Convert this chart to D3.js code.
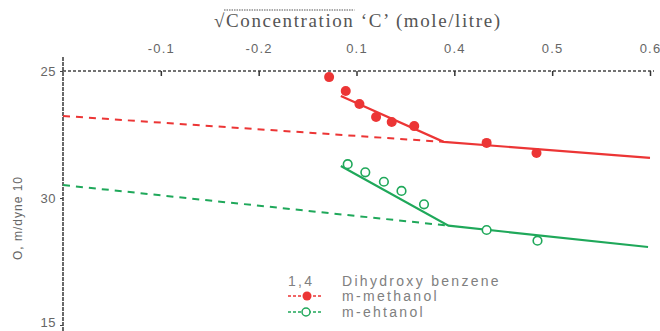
<!DOCTYPE html>
<html><head><meta charset="utf-8">
<script src="https://cdn.jsdelivr.net/npm/d3@7"></script>
<style>
html,body{margin:0;padding:0;background:#fff;}
svg{display:block;}
</style></head>
<body>
<svg id="chart" width="660" height="331"></svg>
<script>
// ---- data ----
const xTickValues = [0.1, 0.2, 0.3, 0.4, 0.5, 0.6];
const xTickLabels = ["-0.1", "-0.2", "0.1", "0.4", "0.5", "0.6"];
const yTickValues = [25, 30, 35];
const yTickLabels = ["25", "30", "15"];

const methanolX = [0.272, 0.289, 0.303, 0.320, 0.336, 0.359, 0.433, 0.484];
const methanolY = [25.24, 25.79, 26.30, 26.81, 27.01, 27.17, 27.83, 28.23];
const methanolFitX = [0.284, 0.389, 0.600];
const methanolFitY = [25.98, 27.79, 28.42];
const methanolDashX = [0.0, 0.389];
const methanolDashY = [26.77, 27.79];

const ethanolX = [0.291, 0.309, 0.328, 0.346, 0.369, 0.433, 0.485];
const ethanolY = [28.67, 28.99, 29.36, 29.72, 30.25, 31.26, 31.68];
const ethanolFitX = [0.284, 0.394, 0.598];
const ethanolFitY = [28.74, 31.09, 31.93];
const ethanolDashX = [0.0, 0.394];
const ethanolDashY = [29.49, 31.09];

const legendTitle = ["1,4", "Dihydroxy benzene"];
const seriesNames = ["m-methanol", "m-ehtanol"];

// ---- drawing ----
const RED = "#ec3535", GREEN = "#1fa85a", GREY = "#555";
const svg = d3.select("#chart");
const x = d3.scaleLinear().domain([0, 0.6]).range([63, 650]);
const y = d3.scaleLinear().domain([25, 35]).range([71, 325]);
const zip = (a, b) => a.map((v, i) => [v, b[i]]);
const line = d3.line().x(d => x(d[0])).y(d => y(d[1]));

// top axis
const xAxis = d3.axisTop(x).tickValues(xTickValues)
  .tickFormat((d, i) => xTickLabels[i]).tickSizeInner(-5).tickSizeOuter(0).tickPadding(18);
const gx = svg.append("g").attr("transform", "translate(0,71)").call(xAxis);
gx.select(".domain").attr("stroke", "#444").attr("stroke-width", 1.3).attr("stroke-dasharray", "3,2")
  .attr("d", `M${x(0)},0H${x(0.6) + 4}`);
gx.selectAll(".tick line").attr("stroke", "#333").attr("stroke-width", 1.5);
gx.selectAll(".tick text").attr("fill", "#666").attr("font-family", "Liberation Sans, Arial, sans-serif")
  .attr("font-size", 13).attr("letter-spacing", 1.2);

// left axis
const yAxis = d3.axisLeft(y).tickValues(yTickValues)
  .tickFormat((d, i) => yTickLabels[i]).tickSizeInner(3).tickSizeOuter(0).tickPadding(4);
const gy = svg.append("g").attr("transform", "translate(63,0)").call(yAxis);
gy.select(".domain").attr("stroke", "#444").attr("stroke-width", 1.6).attr("stroke-dasharray", "4,1")
  .attr("d", "M0,57V331");
gy.selectAll(".tick line").attr("stroke", "#444");
gy.selectAll(".tick text").attr("fill", "#666").attr("font-family", "Liberation Sans, Arial, sans-serif")
  .attr("font-size", 13).attr("letter-spacing", 0.5)
  .attr("y", (d, i) => i === yTickValues.length - 1 ? -3 : 0);

// title
const title = svg.append("text").attr("x", 214).attr("y", 27)
  .attr("font-family", "Liberation Serif, Times New Roman, serif").attr("font-size", 19).attr("fill", GREY)
  .attr("letter-spacing", 1.6);
title.append("tspan").text("\u221A");
title.append("tspan").text("Concentration");
title.append("tspan").text(" \u2018C\u2019 (mole/litre)");
{
  const n = title.node();
  const start = n.getStartPositionOfChar(1).x;
  const end = n.getEndPositionOfChar(13).x;
  svg.append("line").attr("x1", start - 2).attr("x2", end).attr("y1", 10).attr("y2", 10)
    .attr("stroke", GREY).attr("stroke-width", 1).attr("stroke-dasharray", "1.5,1");
}

// y label
svg.append("text").attr("transform", "translate(22,218) rotate(-90)").attr("text-anchor", "middle")
  .attr("font-family", "Liberation Sans, Arial, sans-serif").attr("font-size", 12).attr("fill", "#666")
  .attr("letter-spacing", 1).text("O, m/dyne 10");

// dashed extrapolations
svg.append("path").attr("d", line(zip(methanolDashX, methanolDashY))).attr("fill", "none")
  .attr("stroke", RED).attr("stroke-width", 2).attr("stroke-dasharray", "7,6");
svg.append("path").attr("d", line(zip(ethanolDashX, ethanolDashY))).attr("fill", "none")
  .attr("stroke", GREEN).attr("stroke-width", 2).attr("stroke-dasharray", "7,6");

// solid fits
svg.append("path").attr("d", line(zip(methanolFitX, methanolFitY))).attr("fill", "none")
  .attr("stroke", RED).attr("stroke-width", 2.2);
svg.append("path").attr("d", line(zip(ethanolFitX, ethanolFitY))).attr("fill", "none")
  .attr("stroke", GREEN).attr("stroke-width", 2.2);

// points
svg.append("g").selectAll("circle").data(zip(methanolX, methanolY)).join("circle")
  .attr("cx", d => x(d[0])).attr("cy", d => y(d[1])).attr("r", 5).attr("fill", RED);
svg.append("g").selectAll("circle").data(zip(ethanolX, ethanolY)).join("circle")
  .attr("cx", d => x(d[0])).attr("cy", d => y(d[1])).attr("r", 4.3).attr("fill", "#fff")
  .attr("stroke", GREEN).attr("stroke-width", 1.6);

// legend
const lf = "Liberation Sans, Arial, sans-serif";
const leg = svg.append("g").attr("font-family", lf).attr("font-size", 14).attr("fill", "#808080").attr("letter-spacing", 2.3);
leg.append("text").attr("x", 288).attr("y", 286).text(legendTitle[0]);
leg.append("text").attr("x", 342).attr("y", 286).text(legendTitle[1]);
leg.append("text").attr("x", 342).attr("y", 301).text(seriesNames[0]);
leg.append("text").attr("x", 342).attr("y", 317).text(seriesNames[1]);
svg.append("line").attr("x1", 288).attr("x2", 323).attr("y1", 296).attr("y2", 296)
  .attr("stroke", RED).attr("stroke-width", 1.5).attr("stroke-dasharray", "3,2");
svg.append("circle").attr("cx", 307).attr("cy", 296).attr("r", 4.5).attr("fill", RED);
svg.append("line").attr("x1", 288).attr("x2", 323).attr("y1", 312).attr("y2", 312)
  .attr("stroke", GREEN).attr("stroke-width", 1.5).attr("stroke-dasharray", "3,2");
svg.append("circle").attr("cx", 306).attr("cy", 312).attr("r", 4).attr("fill", "#fff")
  .attr("stroke", GREEN).attr("stroke-width", 1.5);
</script>
</body></html>
